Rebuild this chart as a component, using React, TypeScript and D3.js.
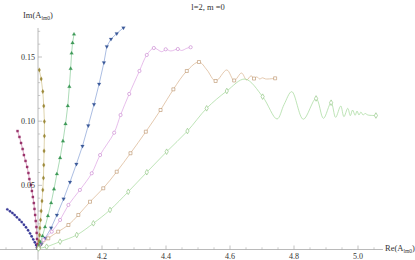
import React from 'react';
import * as d3 from 'd3';

type Pt = [number, number];

// [Re(A), Im(A)]
const s1: Pt[] = [
  [3.904, 0.0313], [3.9125, 0.0298], [3.920, 0.0284], [3.927, 0.0269], [3.934, 0.0251],
  [3.942, 0.0232], [3.949, 0.0214], [3.956, 0.0193], [3.9625, 0.0173], [3.969, 0.0150],
  [3.975, 0.0126], [3.980, 0.0103], [3.985, 0.0079], [3.990, 0.0056], [3.994, 0.0035],
  [3.997, 0.0017], [3.998, 0.0008],
];
const s2: Pt[] = [
  [3.936, 0.0923], [3.942, 0.0877], [3.947, 0.0830], [3.952, 0.0783], [3.956, 0.0736],
  [3.961, 0.0690], [3.966, 0.0643], [3.970, 0.0596], [3.973, 0.0549], [3.978, 0.0503],
  [3.981, 0.0456], [3.984, 0.0409], [3.987, 0.0362], [3.989, 0.0316], [3.991, 0.0269],
  [3.993, 0.0222], [3.995, 0.0175], [3.996, 0.0129], [3.997, 0.0082], [3.998, 0.0043],
  [3.998, 0.0012],
];
const s3: Pt[] = [
  [4.004, 0.1399], [4.010, 0.1329], [4.015, 0.1231], [4.018, 0.1118], [4.020, 0.0997],
  [4.020, 0.0884], [4.019, 0.0768], [4.018, 0.0658], [4.017, 0.0557], [4.015, 0.0464],
  [4.0125, 0.0378], [4.010, 0.0300], [4.008, 0.0230], [4.006, 0.0168], [4.005, 0.0113],
  [4.003, 0.0066], [4.002, 0.0035], [4.001, 0.0012],
];
const s4: Pt[] = [
  [4.1125, 0.1677], [4.108, 0.1609], [4.105, 0.1529], [4.102, 0.1409], [4.098, 0.1269],
  [4.093, 0.1118], [4.086, 0.0978], [4.078, 0.0845], [4.069, 0.0713], [4.059, 0.0588],
  [4.050, 0.0471], [4.041, 0.0362], [4.031, 0.0261], [4.022, 0.0175], [4.014, 0.0105],
  [4.008, 0.0058], [4.003, 0.0027], [4.000, 0.0012],
];
const s5: Pt[] = [
  [4.267, 0.1728], [4.246, 0.1683], [4.228, 0.1640], [4.215, 0.1582], [4.206, 0.1456],
  [4.191, 0.1290], [4.175, 0.1131], [4.157, 0.0965], [4.139, 0.0806], [4.120, 0.0666],
  [4.100, 0.0526], [4.080, 0.0394], [4.059, 0.0269], [4.041, 0.0168], [4.023, 0.0090],
  [4.011, 0.0043], [4.002, 0.0012],
];
const s6Line: Pt[] = [
  [4.002, 0.0012], [4.017, 0.0074], [4.043, 0.0139], [4.069, 0.0230], [4.095, 0.0347],
  [4.131, 0.0464], [4.168, 0.0594], [4.194, 0.0736], [4.238, 0.0910], [4.258, 0.1048],
  [4.285, 0.1212], [4.317, 0.1391], [4.340, 0.1516], [4.362, 0.1570], [4.387, 0.1541],
  [4.399, 0.1560], [4.415, 0.1547], [4.437, 0.1562], [4.449, 0.1551], [4.465, 0.1568],
  [4.477, 0.1576],
];
const s6Marks: Pt[] = [
  [4.002, 0.0012], [4.017, 0.0074], [4.043, 0.0139], [4.069, 0.0230], [4.095, 0.0347],
  [4.131, 0.0464], [4.168, 0.0594], [4.194, 0.0736], [4.238, 0.0910], [4.258, 0.1048],
  [4.285, 0.1212], [4.317, 0.1391], [4.340, 0.1516], [4.362, 0.1570], [4.399, 0.1560],
  [4.437, 0.1562], [4.477, 0.1576],
];
const s7Line: Pt[] = [
  [4.002, 0.0012], [4.032, 0.0087], [4.063, 0.0139], [4.095, 0.0191], [4.126, 0.0269],
  [4.1625, 0.0372], [4.204, 0.0477], [4.246, 0.0606], [4.289, 0.0750], [4.337, 0.0918],
  [4.383, 0.1087], [4.423, 0.1248], [4.465, 0.1391], [4.503, 0.1461], [4.528, 0.1399],
  [4.555, 0.1313], [4.590, 0.1399], [4.613, 0.1317], [4.636, 0.1375], [4.652, 0.1321],
  [4.666, 0.1354], [4.675, 0.1332], [4.684, 0.1345], [4.6925, 0.1329], [4.702, 0.1338],
  [4.711, 0.1329], [4.741, 0.1334],
];
const s7Marks: Pt[] = [
  [4.002, 0.0012], [4.032, 0.0087], [4.063, 0.0139], [4.095, 0.0191], [4.126, 0.0269],
  [4.1625, 0.0372], [4.204, 0.0477], [4.246, 0.0606], [4.289, 0.0750], [4.337, 0.0918],
  [4.383, 0.1087], [4.423, 0.1248], [4.465, 0.1391], [4.503, 0.1461], [4.555, 0.1313],
  [4.613, 0.1317], [4.675, 0.1332], [4.741, 0.1334],
];
const s8Line: Pt[] = [
  [4.002, 0.0008], [4.027, 0.0022], [4.069, 0.0061], [4.121, 0.0113], [4.173, 0.0204],
  [4.225, 0.0308], [4.282, 0.0450], [4.340, 0.0602], [4.402, 0.0762], [4.467, 0.0923],
  [4.527, 0.1100], [4.590, 0.1235], [4.647, 0.1328], [4.702, 0.1191], [4.747, 0.1017],
  [4.769, 0.1130], [4.793, 0.1230], [4.829, 0.1015], [4.869, 0.1177], [4.892, 0.1022],
  [4.916, 0.1144], [4.930, 0.1030], [4.946, 0.1118], [4.956, 0.1035], [4.968, 0.1100],
  [4.976, 0.1043], [4.983, 0.1087], [4.991, 0.1046], [4.997, 0.1079], [5.003, 0.1048],
  [5.009, 0.1071], [5.016, 0.1048], [5.022, 0.1060], [5.031, 0.1048], [5.056, 0.1044],
];
const s8Marks: Pt[] = [
  [4.002, 0.0008], [4.027, 0.0022], [4.069, 0.0061], [4.121, 0.0113], [4.173, 0.0204],
  [4.225, 0.0308], [4.282, 0.0450], [4.340, 0.0602], [4.402, 0.0762], [4.467, 0.0923],
  [4.527, 0.1100], [4.590, 0.1235], [4.702, 0.1191], [4.869, 0.1177], [4.916, 0.1144],
  [5.056, 0.1044],
];

const xMajor = [4.2, 4.4, 4.6, 4.8, 5.0];
const yMajor = [0.05, 0.1, 0.15];

const W = 415;
const H = 260;
const FONT = '"Liberation Serif", "DejaVu Serif", serif';

const x = d3.scaleLinear().domain([4.0, 5.0]).range([38, 358]);
const y = d3.scaleLinear().domain([0, 0.15]).range([249.5, 57]);

type Series = {
  line: Pt[];
  marks: Pt[];
  lineColor: string;
  markColor: string;
  symbol: d3.SymbolType;
  size: number;
  filled: boolean;
  rotate?: number;
  smooth?: boolean;
};

const series: Series[] = [
  { line: s1, marks: s1, lineColor: '#7474c0', markColor: '#3b3b98', symbol: d3.symbolCircle, size: 4.5, filled: true },
  { line: s2, marks: s2, lineColor: '#c878a6', markColor: '#9a356c', symbol: d3.symbolSquare, size: 5, filled: true },
  { line: s3, marks: s3, lineColor: '#d0c088', markColor: '#9c8a3a', symbol: d3.symbolDiamond, size: 6, filled: true },
  { line: s4, marks: s4, lineColor: '#88cc98', markColor: '#3e9a58', symbol: d3.symbolTriangle, size: 6, filled: true },
  { line: s5, marks: s5, lineColor: '#86a0d6', markColor: '#3c5a9a', symbol: d3.symbolTriangle, size: 6, filled: true, rotate: 180 },
  { line: s6Line, marks: s6Marks, lineColor: '#dca2e2', markColor: '#c47ccc', symbol: d3.symbolCircle, size: 8, filled: false, smooth: true },
  { line: s7Line, marks: s7Marks, lineColor: '#d8b28c', markColor: '#b88e64', symbol: d3.symbolSquare, size: 9, filled: false, smooth: true },
  { line: s8Line, marks: s8Marks, lineColor: '#a2d898', markColor: '#84c076', symbol: d3.symbolDiamond, size: 9, filled: false, smooth: true },
];

const straight = d3.line<Pt>().x(d => x(d[0])).y(d => y(d[1]));
const curved = d3.line<Pt>().x(d => x(d[0])).y(d => y(d[1])).curve(d3.curveCatmullRom.alpha(0.5));

const xMinor = d3.range(78, 102).map(i => i * 0.05).filter(v => !xMajor.some(m => Math.abs(m - v) < 1e-6) && Math.abs(v - 4) > 1e-6);
const yMinor = d3.range(1, 18).map(i => i * 0.01).filter(v => !yMajor.some(m => Math.abs(m - v) < 1e-6));

const axisColor = '#a8a8a8';

export default function App() {
  const x0 = x(4.0);
  const y0 = y(0);
  return (
    <svg width={W} height={H} style={{ position: 'absolute', left: 0, top: 0, background: '#fff' }}>
      {/* axes */}
      <line x1={x(3.881)} x2={x(5.078)} y1={y0} y2={y0} stroke={axisColor} strokeWidth={0.8} />
      <line x1={x0} x2={x0} y1={y(-0.008)} y2={y(0.1726)} stroke={axisColor} strokeWidth={0.8} />
      {xMinor.map(v => (
        <line key={'xm' + v} x1={x(v)} x2={x(v)} y1={y0} y2={y0 - 2.2} stroke={axisColor} strokeWidth={0.6} />
      ))}
      {xMajor.map(v => (
        <line key={'xM' + v} x1={x(v)} x2={x(v)} y1={y0} y2={y0 - 4} stroke={axisColor} strokeWidth={0.7} />
      ))}
      {yMinor.map(v => (
        <line key={'ym' + v} x1={x0} x2={x0 + 2.2} y1={y(v)} y2={y(v)} stroke={axisColor} strokeWidth={0.6} />
      ))}
      {yMajor.map(v => (
        <line key={'yM' + v} x1={x0} x2={x0 + 4} y1={y(v)} y2={y(v)} stroke={axisColor} strokeWidth={0.7} />
      ))}

      {/* series */}
      {series.map((s, i) => (
        <g key={'s' + i}>
          <path d={(s.smooth ? curved : straight)(s.line) || ''} fill="none" stroke={s.lineColor} strokeWidth={0.7} />
          {s.marks.map((p, j) => (
            <path
              key={j}
              d={d3.symbol().type(s.symbol).size(s.size)() || ''}
              transform={`translate(${x(p[0])},${y(p[1])})${s.rotate ? ` rotate(${s.rotate})` : ''}`}
              fill={s.filled ? s.markColor : '#fff'}
              stroke={s.markColor}
              strokeWidth={s.filled ? 0.2 : 0.6}
            />
          ))}
        </g>
      ))}

      {/* tick labels */}
      {xMajor.map(v => (
        <text key={'xl' + v} x={x(v)} y={259} textAnchor="middle" fontFamily={FONT} fontSize={8} fill="#333">
          {v.toFixed(1)}
        </text>
      ))}
      {yMajor.map(v => (
        <text key={'yl' + v} x={x0 - 3} y={y(v) + 3} textAnchor="end" fontFamily={FONT} fontSize={8} fill="#333">
          {v.toFixed(2)}
        </text>
      ))}

      {/* axis labels and title */}
      <text x={23} y={18} fontFamily={FONT} fontSize={8.5} fill="#333">
        Im(A<tspan fontSize={5.5} dy={2}>lm0</tspan><tspan dy={-2}>)</tspan>
      </text>
      <text x={385} y={251} fontFamily={FONT} fontSize={8.5} fill="#333">
        Re(A<tspan fontSize={5.5} dy={2}>lm0</tspan><tspan dy={-2}>)</tspan>
      </text>
      <text x={208} y={10} textAnchor="middle" fontFamily={FONT} fontSize={8.5} fill="#333">
        l=2, m =0
      </text>
    </svg>
  );
}
